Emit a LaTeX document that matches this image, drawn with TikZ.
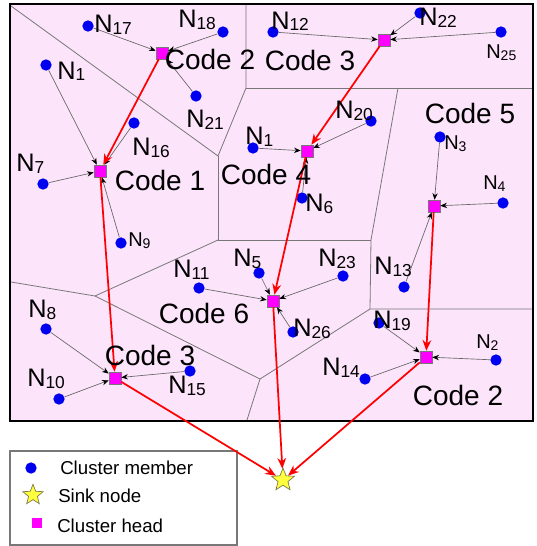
\documentclass[tikz,border=0pt]{standalone}
\usepackage{fontspec}
\setmainfont{Liberation Sans}
\usetikzlibrary{arrows.meta,shapes.geometric}
\definecolor{bgpink}{RGB}{252,228,250}
\definecolor{chmag}{RGB}{255,0,255}
\definecolor{cmblue}{RGB}{0,0,240}
\definecolor{vgray}{RGB}{120,120,120}
\definecolor{sinky}{RGB}{255,255,60}
\newcommand{\nlab}[1]{N\raisebox{-1.5pt}{\fontsize{13}{13}\selectfont #1}}
\newcommand{\nlabs}[1]{N\raisebox{-1.5pt}{\fontsize{10.5}{10.5}\selectfont #1}}
\tikzset{
  member/.style={circle,fill=cmblue,inner sep=0pt,minimum size=8.5pt},
  chead/.style={rectangle,fill=chmag,draw=vgray,line width=0.4pt,inner sep=0pt,minimum size=9pt},
  sink/.style={star,star points=5,star point ratio=2.3,fill=sinky,draw=black!60!yellow,line width=0.5pt,inner sep=0pt,minimum size=18pt},
  vline/.style={draw=vgray,line width=0.6pt},
  marrow/.style={draw=black!60,line width=0.5pt,-{Stealth[length=5pt,width=4pt,black]}},
  rarrow/.style={draw=red,line width=1.3pt,-{Stealth[length=8pt,width=6.5pt,red]}},
  nl/.style={anchor=base west,inner sep=0pt,font=\fontsize{19}{19}\selectfont},
  nls/.style={anchor=base west,inner sep=0pt,font=\fontsize{15}{15}\selectfont},
  codel/.style={anchor=center,inner sep=0pt,font=\fontsize{21}{21}\selectfont},
  legtext/.style={anchor=west,inner sep=0pt,font=\fontsize{14}{14}\selectfont}
}
\begin{document}
\begin{tikzpicture}[x=0.75pt,y=-0.75pt]
\useasboundingbox (0,0) rectangle (536,546);
% field
\fill[bgpink] (10,4) rectangle (533,421);
% Voronoi lines
\draw[vline] (11,6) -- (218,156) -- (246,88) -- (246,5);
\draw[vline] (246,88) -- (533,88);
\draw[vline] (218,156) -- (218,240) -- (371,240);
\draw[vline] (398,88) -- (371,240) -- (370,309) -- (533,309);
\draw[vline] (218,240) -- (95,296) -- (11,282);
\draw[vline] (95,296) -- (260,379) -- (370,309);
\draw[vline] (260,379) -- (247,420);
% frame
\draw[black,line width=2pt] (10,4) rectangle (533,421);
% legend box
\draw[vgray,line width=0.8pt,fill=white] (10,451) rectangle (237,545);

% cluster heads
\node[chead] (h2a) at (162,53) {};
\node[chead] (h1) at (100,171) {};
\node[chead] (h3a) at (384,40) {};
\node[chead] (h4) at (307,151) {};
\node[chead] (h5) at (434,206) {};
\node[chead] (h6) at (273,301) {};
\node[chead] (h3b) at (115,378) {};
\node[chead] (h2b) at (426,357) {};
% sink
\node[sink] (sk) at (283,480) {};

% members
\node[member] (m17) at (88,26) {};
\node[member] (m18) at (223,32) {};
\node[member] (m1a) at (46,65) {};
\node[member] (m21) at (196,96) {};
\node[member] (m16) at (134,123) {};
\node[member] (m7) at (43,184) {};
\node[member] (m9) at (121,243) {};
\node[member] (m12) at (273,32) {};
\node[member] (m22) at (420,13) {};
\node[member] (m25) at (501,32) {};
\node[member] (m20) at (371,121) {};
\node[member] (m1b) at (253,148) {};
\node[member] (m6) at (302,198) {};
\node[member] (m3) at (440,137) {};
\node[member] (m4) at (503,203) {};
\node[member] (m13) at (404,287) {};
\node[member] (m23) at (343,276) {};
\node[member] (m26) at (293,332) {};
\node[member] (m19) at (379,323) {};
\node[member] (m2) at (496,360) {};
\node[member] (m14) at (365,379) {};
\node[member] (m5) at (259,273) {};
\node[member] (m11) at (199,288) {};
\node[member] (m8) at (46,329) {};
\node[member] (m10) at (59,399) {};
\node[member] (m15) at (190,371) {};

% member arrows
\foreach \a/\b in {m17/h2a,m18/h2a,m21/h2a,
  m1a/h1,m7/h1,m16/h1,m9/h1,
  m12/h3a,m22/h3a,m25/h3a,
  m1b/h4,m20/h4,m6/h4,
  m3/h5,m4/h5,m13/h5,
  m11/h6,m5/h6,m23/h6,m26/h6,
  m8/h3b,m10/h3b,m15/h3b,
  m19/h2b,m2/h2b,m14/h2b}
  \draw[marrow] (\a) -- (\b);

% red routes
\draw[rarrow] (h2a) -- (h1);
\draw[rarrow] (h1) -- (h3b);
\draw[rarrow] (h3b) -- (sk);
\draw[rarrow] (h3a) -- (h4);
\draw[rarrow] (h4) -- (h6);
\draw[rarrow] (h6) -- (sk);
\draw[rarrow] (h5) -- (h2b);
\draw[rarrow] (h2b) -- (sk);

% labels
\node[nl] (t17) at (94,32) {\nlab{17}};
\node[nl] (t18) at (178,27) {\nlab{18}};
\node[nl] (t1a) at (57,79) {\nlab{1}};
\node[nl] (t21) at (186,127) {\nlab{21}};
\node[nl] (t16) at (132,155) {\nlab{16}};
\node[nl] (t7) at (16,171) {\nlab{7}};
\node[nls] (t9) at (128,246) {\nlabs{9}};
\node[nl] (t12) at (271,29) {\nlab{12}};
\node[nl] (t22) at (419,26) {\nlab{22}};
\node[nls] (t25) at (486,58) {\nlabs{25}};
\node[nl] (t20) at (335,118) {\nlab{20}};
\node[nl] (t1b) at (245,144) {\nlab{1}};
\node[nl] (t6) at (305,211) {\nlab{6}};
\node[nls] (t3) at (444,149) {\nlabs{3}};
\node[nls] (t4) at (483,189) {\nlabs{4}};
\node[nl] (t13) at (374,274) {\nlab{13}};
\node[nl] (t23) at (318,266) {\nlab{23}};
\node[nl] (t5) at (233,266) {\nlab{5}};
\node[nl] (t11) at (173,277) {\nlab{11}};
\node[nl] (t26) at (293,336) {\nlab{26}};
\node[nl] (t19) at (373,328) {\nlab{19}};
\node[nls] (t2) at (476,348) {\nlabs{2}};
\node[nl] (t14) at (322,375) {\nlab{14}};
\node[nl] (t8) at (28,317) {\nlab{8}};
\node[nl] (t10) at (27,386) {\nlab{10}};
\node[nl] (t15) at (168,393) {\nlab{15}};

\node[codel] (c2a) at (210,59) {Code 2};
\node[codel] (c3a) at (310,60) {Code 3};
\node[codel] (c1) at (160,180) {Code 1};
\node[codel] (c4) at (266,174) {Code 4};
\node[codel] (c5) at (470,113) {Code 5};
\node[codel] (c6) at (204,313) {Code 6};
\node[codel] (c3b) at (150,355) {Code 3};
\node[codel] (c2b) at (458,395) {Code 2};

% legend
\node[member] (lm) at (31,468) {};
\node[legtext] (lmt) at (60,468) {Cluster member};
\node[sink,minimum size=16pt] (ls) at (33,495) {};
\node[legtext] (lst) at (58,496) {Sink node};
\node[rectangle,fill=chmag,inner sep=0pt,minimum size=8pt] (lh) at (37,523) {};
\node[legtext] (lht) at (57,526) {Cluster head};
\end{tikzpicture}
\end{document}
